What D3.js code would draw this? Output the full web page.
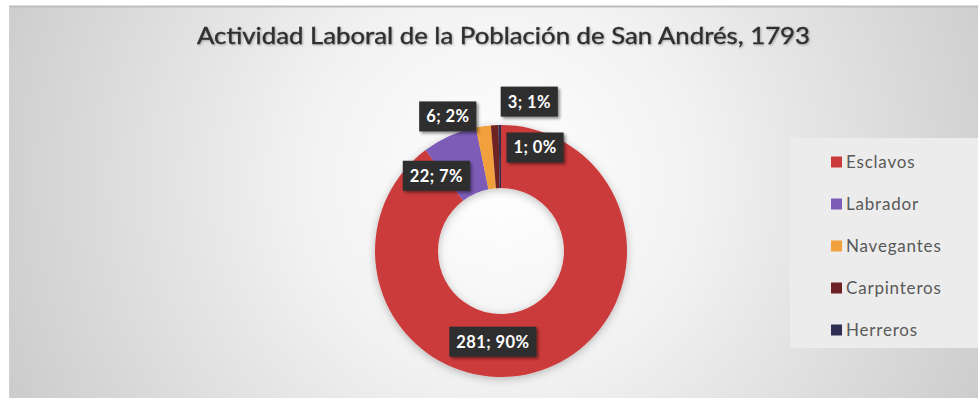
<!DOCTYPE html>
<html><head><meta charset="utf-8">
<script src="https://cdn.jsdelivr.net/npm/d3@7"></script>
<style>html,body{margin:0;padding:0;background:#fff;}svg{display:block;}</style>
</head><body>
<script>
const categories = ["Esclavos", "Labrador", "Navegantes", "Carpinteros", "Herreros"];
const values = [281, 22, 6, 3, 1];
const percentLabels = ["90%", "7%", "2%", "1%", "0%"];
const colors = ["#cc3b3b", "#7d5bb8", "#f2a03c", "#6e2024", "#2f2e52"];
const titleText = "Actividad Laboral de la Población de San Andrés, 1793";
// label nudges relative to arc centroid (dx, dy)
const labelNudge = [[-38, 1], [-26, 11], [-40, -41], [33, -55], [35, -9]];

const W = 978, H = 404;
const svg = d3.select("body").append("svg").attr("width", W).attr("height", H);
const defs = svg.append("defs");
const rg = defs.append("radialGradient").attr("id", "bg").attr("gradientUnits", "userSpaceOnUse")
  .attr("cx", 500).attr("cy", 180).attr("r", 560);
rg.append("stop").attr("offset", "0").attr("stop-color", "#ffffff");
rg.append("stop").attr("offset", "0.35").attr("stop-color", "#f2f2f2");
rg.append("stop").attr("offset", "1").attr("stop-color", "#c9c9c9");
const sh = defs.append("filter").attr("id", "sh").attr("x", "-20%").attr("y", "-20%").attr("width", "140%").attr("height", "140%");
sh.append("feDropShadow").attr("dx", 2).attr("dy", 2).attr("stdDeviation", 1.5).attr("flood-color", "#000").attr("flood-opacity", 0.45);
const glow = defs.append("filter").attr("id", "glow").attr("x", "-20%").attr("y", "-20%").attr("width", "140%").attr("height", "140%");
glow.append("feDropShadow").attr("dx", 0).attr("dy", 2).attr("stdDeviation", 4).attr("flood-color", "#000").attr("flood-opacity", 0.25);
const tsh = defs.append("filter").attr("id", "tsh").attr("x", "-5%").attr("y", "-30%").attr("width", "110%").attr("height", "160%");
tsh.append("feDropShadow").attr("dx", 1).attr("dy", 1).attr("stdDeviation", 1).attr("flood-color", "#000").attr("flood-opacity", 0.3);

// panel
svg.append("rect").attr("x", 9).attr("y", 6).attr("width", W - 9).attr("height", 392).attr("fill", "url(#bg)");
svg.append("line").attr("x1", 9).attr("x2", W).attr("y1", 6.5).attr("y2", 6.5).attr("stroke", "#bdbdbd").attr("stroke-width", 2);
svg.append("line").attr("x1", 9.5).attr("x2", 9.5).attr("y1", 6).attr("y2", 398).attr("stroke", "#d0d0d0");

// title
svg.append("text").attr("x", 197).attr("y", 44)
  .attr("font-family", "Lato, 'Open Sans', sans-serif").attr("font-size", 23.5)
  .attr("textLength", 613).attr("lengthAdjust", "spacingAndGlyphs")
  .attr("fill", "#2f2f2f").attr("stroke", "#2f2f2f").attr("stroke-width", 0.35)
  .attr("filter", "url(#tsh)").text(titleText);

// donut
const cx = 501, cy = 251, R = 126, r0 = 63;
const pie = d3.pie().sort(null).value(d => d);
const arcs = pie(values);
const arc = d3.arc().innerRadius(r0).outerRadius(R);
const g = svg.append("g").attr("transform", `translate(${cx},${cy})`);
g.append("g").attr("filter", "url(#glow)").selectAll("path").data(arcs).join("path")
  .attr("d", arc).attr("fill", (d, i) => colors[i]);

// labels
const lg = g.append("g");
arcs.forEach((a, i) => {
  const c = arc.centroid(a);
  const x = c[0] + labelNudge[i][0], y = c[1] + labelNudge[i][1];
  const t = lg.append("text").attr("x", x).attr("y", y).attr("dy", "0.36em")
    .attr("text-anchor", "middle").attr("font-family", "Lato, 'Open Sans', sans-serif")
    .attr("font-weight", "bold").attr("font-size", 16.5).attr("fill", "#fff")
    .attr("letter-spacing", 0.4)
    .text(`${values[i]}; ${percentLabels[i]}`);
  const bb = t.node().getBBox();
  lg.insert("rect", () => t.node()).attr("x", bb.x - 7).attr("y", y - 15).attr("width", bb.width + 14).attr("height", 30)
    .attr("fill", "#2d2d2d").attr("filter", "url(#sh)");
});

// legend
svg.append("rect").attr("x", 790).attr("y", 138).attr("width", W - 790).attr("height", 210).attr("fill", "#ececec");
const leg = svg.append("g").selectAll("g").data(categories).join("g")
  .attr("transform", (d, i) => `translate(831,${162 + i * 42})`);
leg.append("rect").attr("x", 0).attr("y", -5.5).attr("width", 11).attr("height", 11).attr("fill", (d, i) => colors[i]);
leg.append("text").attr("x", 15).attr("y", 0).attr("dy", "0.36em")
  .attr("font-family", "Lato, 'Open Sans', sans-serif").attr("font-size", 17)
  .attr("letter-spacing", 0.8)
  .attr("fill", "#595959").text(d => d);
</script>
</body></html>
